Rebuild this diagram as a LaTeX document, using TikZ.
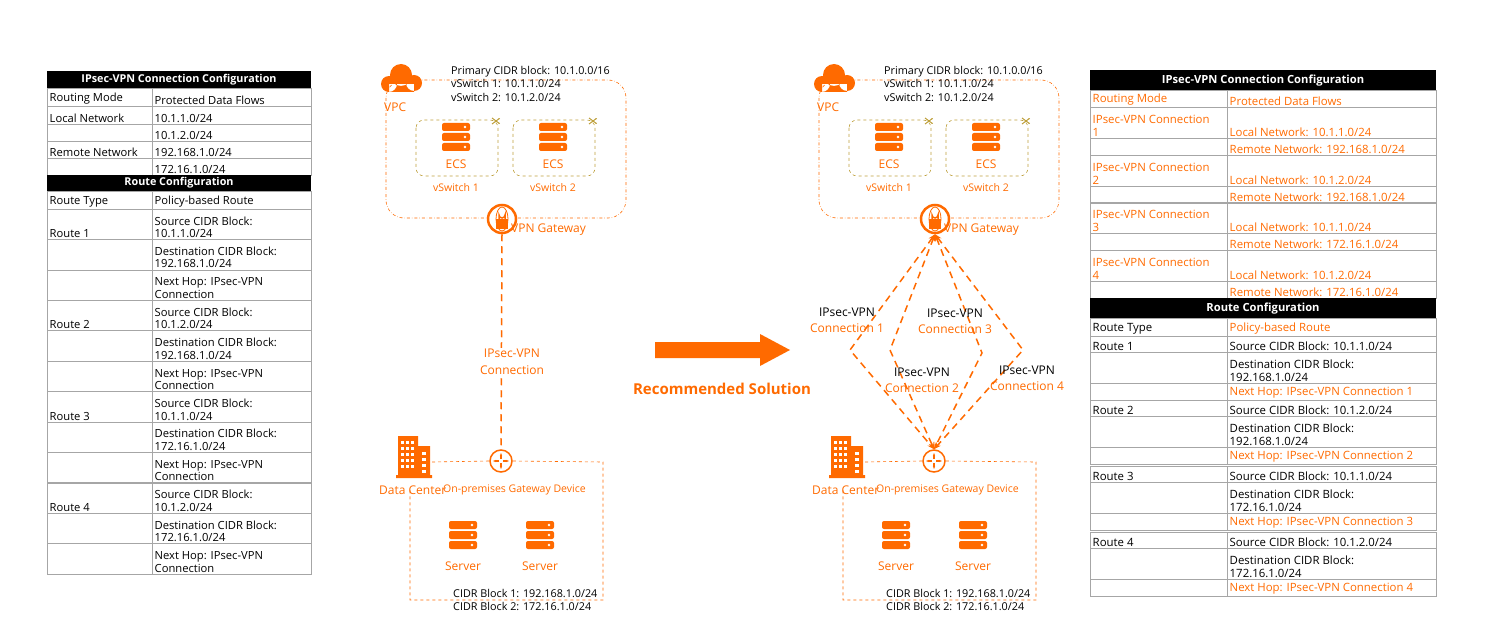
\documentclass[tikz,border=0pt]{standalone}
\usepackage{fontspec}
\setmainfont{Open Sans}
\usepackage{tikz}
\usetikzlibrary{arrows.meta}
\usetikzlibrary{positioning}
\usetikzlibrary{calc}
\definecolor{aliorange}{RGB}{255,106,0}
\definecolor{olive}{RGB}{190,160,60}

\tikzset{
  cell/.style={draw=gray!70, line width=0.5pt},
  txt/.style={inner sep=1.5pt, anchor=south west, align=left, font=\fontsize{11.2}{12.5}\selectfont},
  rtxt/.style={inner sep=1.5pt, anchor=south west, align=left, font=\fontsize{11.4}{13}\selectfont},
  hdr/.style={text=white, font=\bfseries\fontsize{10.8}{12}\selectfont},
  lbl/.style={text=aliorange, font=\fontsize{12}{13}\selectfont},
  small/.style={font=\fontsize{10.8}{11}\selectfont},
  vpcbox/.style={draw=aliorange, dash dot, rounded corners=18pt, line width=0.6pt},
  swbox/.style={draw=olive, dashed, rounded corners=8pt, line width=0.6pt},
  dcbox/.style={draw=aliorange, dashed, line width=0.6pt},
  conn/.style={draw=aliorange, line width=1.5pt, dash pattern=on 7pt off 5pt},
}

% server stack icon
\newcommand\srvicon[1]{
  \foreach \k in {-1,0,1}{
    \fill[aliorange, rounded corners=2pt] ($(#1)+(-14,{\k*10-4})$) rectangle ++(28,8);
    \fill[white] ($(#1)+(9,{\k*10})$) circle (1.3);
  }
}

\begin{document}
\begin{tikzpicture}[x=1pt, y=-1pt]
  \useasboundingbox (0,0) rectangle (1488,631);

  % ---------- left table ----------
  \fill[black] (47,71) rectangle (311,88);
  \node[hdr] at (179,79.5) {IPsec-VPN Connection Configuration};
  \foreach \ya/\yb/\l/\r in {88/106/Routing Mode/Protected Data Flows,
      106/124/Local Network/10.1.1.0\slash 24, 124/141//10.1.2.0\slash 24,
      141/158/Remote Network/192.168.1.0\slash 24, 158/175//172.16.1.0\slash 24}{
    \draw[cell] (47,\ya) rectangle (152,\yb);
    \draw[cell] (152,\ya) rectangle (311,\yb);
    \node[txt] at (48,\yb) {\l};
    \node[txt] at (153,\yb) {\r};
  }
  \fill[black] (47,175) rectangle (311,191);
  \node[hdr] at (179,183) {Route Configuration};
  \draw[cell] (47,191) rectangle (152,209) (152,191) rectangle (311,209);
  \node[txt] at (48,209) {Route Type};
  \node[txt] at (153,209) {Policy-based Route};
  \foreach \n/\src/\dst [count=\i from 0] in {1/10.1.1.0/192.168.1.0, 2/10.1.2.0/192.168.1.0,
      3/10.1.1.0/172.16.1.0, 4/10.1.2.0/172.16.1.0}{
    \pgfmathsetmacro\yo{209+\i*91.25}
    \foreach \j/\t in {0/{Source CIDR Block:\\\src/24}, 1/{Destination CIDR Block:\\\dst/24},
        2/{Next Hop: IPsec-VPN\\Connection}}{
      \draw[cell] (47,{\yo+\j*30.4}) rectangle (152,{\yo+(\j+1)*30.4});
      \draw[cell] (152,{\yo+\j*30.4}) rectangle (311,{\yo+(\j+1)*30.4});
      \node[txt] at (153,{\yo+(\j+1)*30.4}) {\t};
    }
    \node[txt] at (48,{\yo+30.4}) {Route \n};
  }

  % ---------- VPC / data center (drawn twice) ----------
  \foreach \dx/\s in {0/a, 433/b}{
    \begin{scope}[xshift=\dx]
      \draw[vpcbox] (386,80) rectangle (626,218);
      \fill[aliorange] (389,84) circle (8) (401,75) circle (11) (414,83) circle (8)
        (389,84) rectangle (414,92);
      \node[lbl, anchor=west, inner sep=0] (vpc\s) at (384,107) {VPC};
      \node[small, anchor=north west, align=left, inner sep=0, font=\fontsize{10.8}{13.5}\selectfont]
        (cidr\s) at (451,66) {Primary CIDR block: 10.1.0.0/16\\vSwitch 1: 10.1.1.0/24\\vSwitch 2: 10.1.2.0/24};
      \foreach \x/\k in {456/1, 553/2}{
        \draw[swbox] (\x-40,120) rectangle (\x+42,176);
        \draw[olive, line width=1pt, -{Stealth[length=2pt]}] (\x+36,118) -- (\x+44,124);
        \draw[olive, line width=1pt, -{Stealth[length=2pt]}] (\x+36,124) -- (\x+44,118);
        \srvicon{\x,137}
        \node[lbl] (ecs\k\s) at (\x,164) {ECS};
        \node[lbl, font=\fontsize{10.5}{12}\selectfont] (vsw\k\s) at (\x,188) {vSwitch \k};
      }
      % VPN gateway
      \node[circle, draw=aliorange, fill=white, line width=2.5pt, minimum size=28pt, inner sep=0]
        (gw\s) at (502,219) {};
      \draw[aliorange, line width=0.8pt] (gw\s.center) ellipse (6 and 12);
      \fill[aliorange] (496,219) rectangle (508,229);
      \draw[aliorange, line width=1.5pt] (499,219) -- (499,215) arc (180:0:3) -- (505,219);
      \node[lbl, anchor=west, inner sep=0] (gwl\s) at (511,230) {VPN Gateway};
      % gateway device
      \node[circle, draw=aliorange, fill=white, line width=1.5pt, minimum size=22pt, inner sep=0]
        (rt\s) at (501,461) {};
      \foreach \a in {0,90,180,270}
        \draw[aliorange, line width=1.2pt, -{Stealth[length=3pt]}] (rt\s.center) ++(\a:2) -- ++(\a:6);
      % data center
      \draw[dcbox] (432,462) -- (rt\s.west) (rt\s.east) -- (603,462) -- (603,600) -- (410,600) -- (410,490);
      \fill[aliorange] (398,436) rectangle (418,475) (418,446) rectangle (430,475) (396,475) rectangle (432,478);
      \foreach \wx in {401,406,411}
        \foreach \wy in {441,447,...,470}
          \fill[white] (\wx,\wy) rectangle ++(3,2.5);
      \foreach \wy in {452,458,...,470}
        \fill[white] (422,\wy) rectangle ++(4,2.5);
      \node[lbl, anchor=west, inner sep=0] (dc\s) at (379,490) {Data Center};
      \node[lbl, anchor=west, inner sep=0, font=\fontsize{10.5}{12}\selectfont] (gwd\s) at (443,490) {On-premises Gateway Device};
      \foreach \x/\k in {463/1, 540/2}{
        \srvicon{\x,535}
        \node[lbl] (srv\k\s) at (\x,566) {Server};
      }
      \node[small, anchor=west, inner sep=0] (cb1\s) at (453,593) {CIDR Block 1: 192.168.1.0/24};
      \node[small, anchor=west, inner sep=0] (cb2\s) at (453,606) {CIDR Block 2: 172.16.1.0/24};
    \end{scope}
  }

  % left connection
  \draw[conn] (gwa.south) -- (rta.north);
  \node[lbl, align=center, fill=white, inner sep=1pt, font=\fontsize{12}{17}\selectfont]
    (ca) at (512,362) {IPsec-VPN\\Connection};

  % arrow and caption
  \fill[aliorange] (655,342) -- (760,342) -- (760,334) -- (790,350) -- (760,366) -- (760,358) -- (655,358) -- cycle;
  \node[text=aliorange, font=\bfseries\fontsize{15}{18}\selectfont] (rec) at (722,389) {Recommended Solution};

  % right connections
  \coordinate (k1) at (850,350);
  \coordinate (k2) at (890,350);
  \coordinate (k3) at (982,353);
  \coordinate (k4) at (1023,350);
  \foreach \k in {1,2,3,4}
    \draw[conn, {Stealth[length=7pt]}-{Stealth[length=7pt]}] (gwb.south) -- (k\k) -- (rtb.north);
  \foreach \k/\x/\y in {1/847/320, 3/955/321, 2/922/380, 4/1027/378}{
    \node[font=\fontsize{12}{16}\selectfont, align=center, inner sep=0] (c\k) at (\x,\y)
      {IPsec-VPN\\\textcolor{aliorange}{Connection \k}};
  }

  % ---------- right table ----------
  \fill[black] (1090,70) rectangle (1436,90);
  \node[hdr, font=\bfseries\fontsize{11.2}{12}\selectfont] at (1263,81) {IPsec-VPN Connection Configuration};
  \draw[cell] (1090,90) rectangle (1227,107) (1227,90) rectangle (1436,107);
  \node[rtxt, text=aliorange] at (1091,107) {Routing Mode};
  \node[rtxt, text=aliorange] at (1228,107) {Protected Data Flows};
  \foreach \k/\ya/\loc/\rem in {1/107/10.1.1.0/192.168.1.0, 2/155/10.1.2.0/192.168.1.0,
      3/202/10.1.1.0/172.16.1.0, 4/250/10.1.2.0/172.16.1.0}{
    \draw[cell] (1090,\ya) rectangle (1227,\ya+31) (1227,\ya) rectangle (1436,\ya+31);
    \draw[cell] (1090,\ya+31) rectangle (1227,\ya+48) (1227,\ya+31) rectangle (1436,\ya+48);
    \node[rtxt, text=aliorange] at (1091,\ya+31) {IPsec-VPN Connection\\\k};
    \node[rtxt, text=aliorange] at (1228,\ya+31) {Local Network: \loc/24};
    \node[rtxt, text=aliorange] at (1228,\ya+48) {Remote Network: \rem/24};
  }
  \fill[black] (1090,298) rectangle (1436,318);
  \node[hdr, font=\bfseries\fontsize{11.2}{12}\selectfont] at (1263,309) {Route Configuration};
  \draw[cell] (1090,318) rectangle (1227,336) (1227,318) rectangle (1436,336);
  \node[rtxt] at (1091,336) {Route Type};
  \node[rtxt, text=aliorange] at (1228,336) {Policy-based Route};
  \foreach \k/\ya/\src/\dst in {1/336/10.1.1.0/192.168.1.0, 2/400/10.1.2.0/192.168.1.0,
      3/466/10.1.1.0/172.16.1.0, 4/532/10.1.2.0/172.16.1.0}{
    \draw[cell] (1090,\ya) rectangle (1227,\ya+16) (1227,\ya) rectangle (1436,\ya+16);
    \draw[cell] (1090,\ya+16) rectangle (1227,\ya+47) (1227,\ya+16) rectangle (1436,\ya+47);
    \draw[cell] (1090,\ya+47) rectangle (1227,\ya+64) (1227,\ya+47) rectangle (1436,\ya+64);
    \node[rtxt] at (1091,\ya+16) {Route \k};
    \node[rtxt] at (1228,\ya+16) {Source CIDR Block: \src/24};
    \node[rtxt] at (1228,\ya+47) {Destination CIDR Block:\\\dst/24};
    \node[rtxt, text=aliorange] at (1228,\ya+64) {Next Hop: IPsec-VPN Connection \k};
  }
\end{tikzpicture}
\end{document}
